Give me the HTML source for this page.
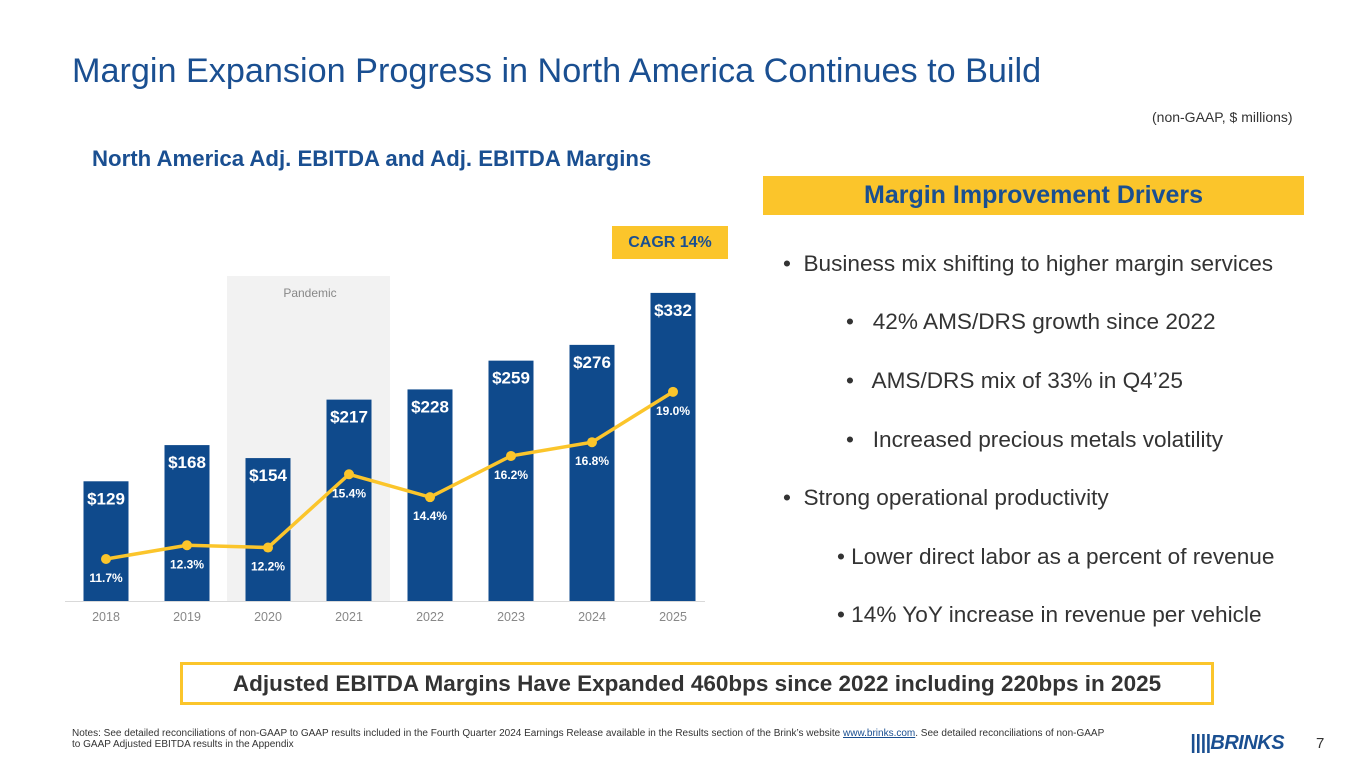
<!DOCTYPE html>
<html><head><meta charset="utf-8"><style>
body{margin:0;width:1365px;height:768px;background:#fff;font-family:"Liberation Sans",sans-serif;position:relative;overflow:hidden}
.a{position:absolute;white-space:nowrap}
</style></head><body>
<div class="a" style="left:72px;top:52px;font-size:34.2px;color:#1a4f91">Margin Expansion Progress in North America Continues to Build</div>
<div class="a" style="left:1152px;top:109px;font-size:14px;color:#333">(non-GAAP, $ millions)</div>
<div class="a" style="left:92px;top:146px;font-size:22.2px;font-weight:bold;color:#1a4f91">North America Adj. EBITDA and Adj. EBITDA Margins</div>
<div class="a" style="left:612px;top:226px;width:116px;height:33px;background:#fbc52b;color:#1a4f91;font-weight:bold;font-size:16px;line-height:33px;text-align:center">CAGR 14%</div>
<svg class="a" style="left:0;top:0" width="740" height="640" id="chart"></svg>
<div class="a" style="left:763px;top:176px;width:541px;height:39px;background:#fbc52b;color:#1a4f91;font-weight:bold;font-size:25px;line-height:39px;text-align:center">Margin Improvement Drivers</div>
<div style="position:absolute;left:783px;top:0;font-size:22.6px;color:#333">
<div class="a" style="top:251px">•&nbsp; Business mix shifting to higher margin services</div>
<div class="a" style="top:309px;left:63px">•&nbsp;&nbsp; 42% AMS/DRS growth since 2022</div>
<div class="a" style="top:368px;left:63px">•&nbsp;&nbsp; AMS/DRS mix of 33% in Q4’25</div>
<div class="a" style="top:427px;left:63px">•&nbsp;&nbsp; Increased precious metals volatility</div>
<div class="a" style="top:485px">•&nbsp; Strong operational productivity</div>
<div class="a" style="top:544px;left:54px">• Lower direct labor as a percent of revenue</div>
<div class="a" style="top:602px;left:54px">• 14% YoY increase in revenue per vehicle</div>
</div>
<div class="a" style="left:180px;top:662px;width:1028px;height:37px;border:3px solid #fbc52b;color:#333;font-weight:bold;font-size:22.5px;line-height:37px;text-align:center">Adjusted EBITDA Margins Have Expanded 460bps since 2022 including 220bps in 2025</div>
<div class="a" style="left:72px;top:728px;font-size:10px;color:#333;line-height:11px">Notes: See detailed reconciliations of non-GAAP to GAAP results included in the Fourth Quarter 2024 Earnings Release available in the Results section of the Brink’s website <span style="color:#1a4f91;text-decoration:underline">www.brinks.com</span>. See detailed reconciliations of non-GAAP<br>to GAAP Adjusted EBITDA results in the Appendix</div>
<div class="a" style="left:1190px;top:732px;font-size:20px;font-weight:bold;font-style:italic;color:#1a4f91;letter-spacing:-0.5px">||||BRINKS</div>
<div class="a" style="left:1316px;top:735px;font-size:15px;color:#333">7</div>
<script>
const years=["2018","2019","2020","2021","2022","2023","2024","2025"];
const ebitda=[129,168,154,217,228,259,276,332];
const margins=[11.7,12.3,12.2,15.4,14.4,16.2,16.8,19.0];
const svg=document.getElementById('chart');
const NS='http://www.w3.org/2000/svg';
const base=601,x0=106,step=81,bw=45;
const xs=i=>x0+i*step;
const yb=v=>base-v*0.928;
const ym=v=>559-(v-11.7)*22.9;
function mk(t,a,txt){const e=document.createElementNS(NS,t);for(const k in a)e.setAttribute(k,a[k]);if(txt!=null)e.textContent=txt;svg.appendChild(e);return e;}
let e=mk('rect',{x:227,y:276,width:163,height:325,fill:'#f2f2f2'});


e=mk('text',{x:310,y:297,'text-anchor':'middle','font-size':12,fill:'#888'},'Pandemic');


e=mk('line',{x1:65,x2:705,y1:601.5,y2:601.5,stroke:'#d9d9d9'});


ebitda.forEach((v,i)=>{
 const r=mk('rect',{x:xs(i)-bw/2,y:yb(v),width:bw,height:base-yb(v),fill:'#0f4a8c'});
 
 
 const t=mk('text',{x:xs(i),y:yb(v)+23,'text-anchor':'middle','font-size':17,'font-weight':'bold',fill:'#fff'},'$'+v);
 
 
 const l=mk('text',{x:xs(i),y:621,'text-anchor':'middle','font-size':12.5,fill:'#888'},years[i]);
 
 
});
const pl=mk('polyline',{points:margins.map((m,i)=>xs(i)+','+ym(m)).join(' '),fill:'none',stroke:'#fbc52b','stroke-width':3.5});


margins.forEach((m,i)=>{
 const c=mk('circle',{cx:xs(i),cy:ym(m),r:5,fill:'#fbc52b'});
 
 
 const t=mk('text',{x:xs(i),y:ym(m)+23,'text-anchor':'middle','font-size':12,'font-weight':'bold',fill:'#fff'},m.toFixed(1)+'%');
 
 
});
</script>
</body></html>
